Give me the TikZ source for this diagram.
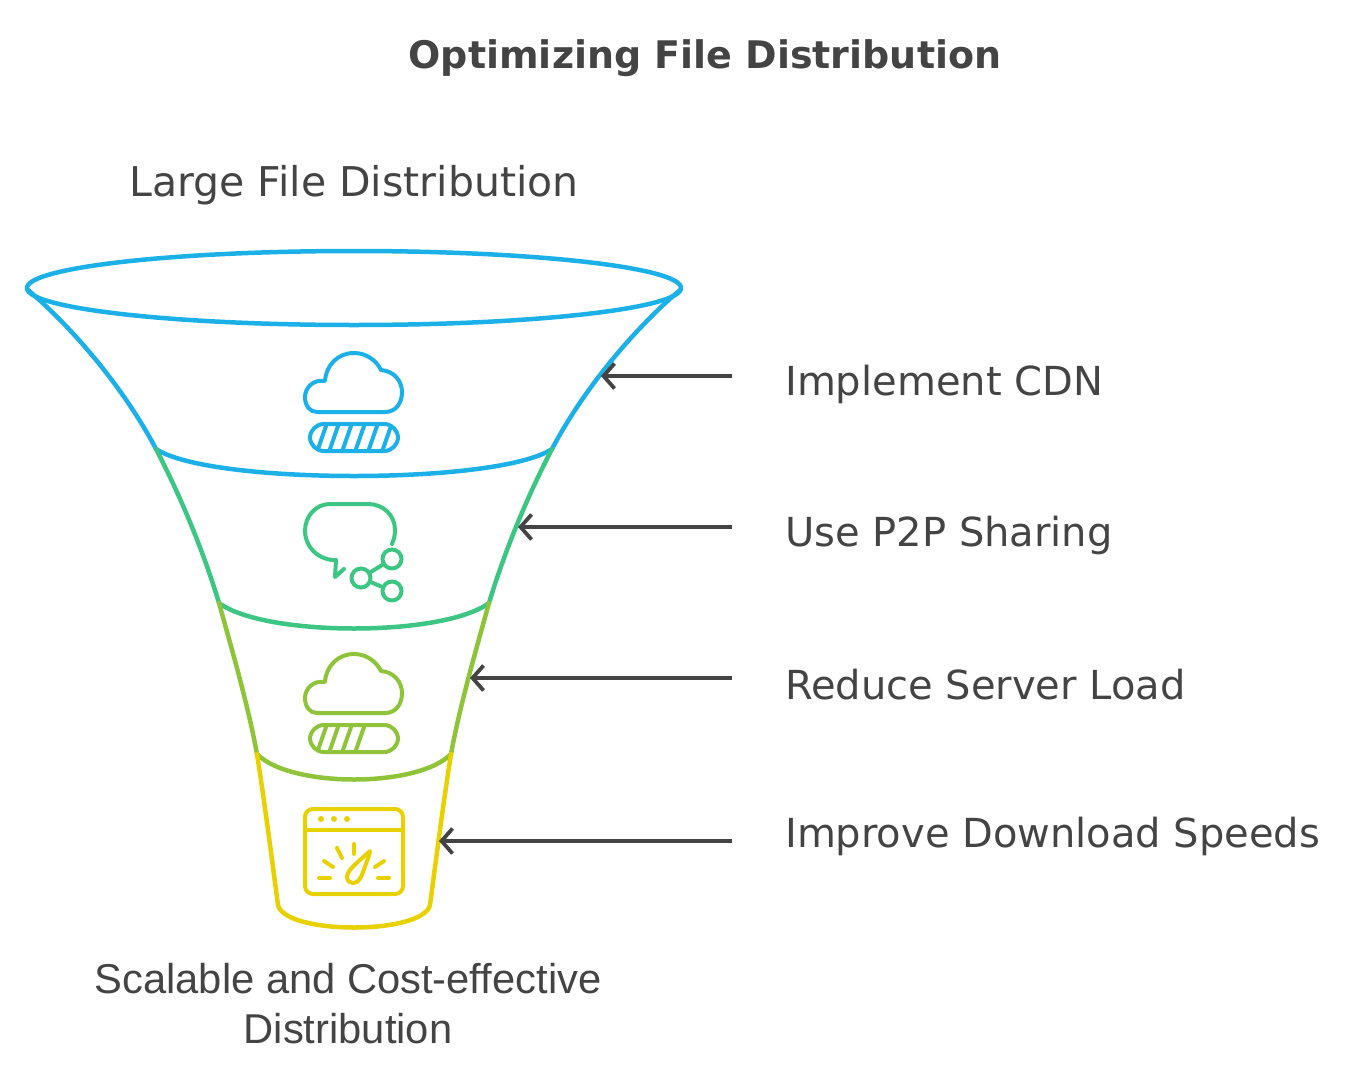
\documentclass[tikz,border=0pt]{standalone}
\usepackage{fontspec}
\setmainfont{DejaVu Sans}
\newfontfamily\plainfont{Liberation Sans}
\usetikzlibrary{arrows.meta}
\definecolor{inkgrey}{HTML}{444444}
\definecolor{fblue}{HTML}{1CB0E8}
\definecolor{fgreen}{HTML}{3CC583}
\definecolor{folive}{HTML}{8FC43A}
\definecolor{fyellow}{HTML}{E8D100}
\tikzstyle{wall} = [line width=4.5pt, line cap=round, line join=round]
\tikzstyle{icon} = [line width=4pt, line cap=round, line join=round]
\tikzstyle{pointer} = [draw=inkgrey, line width=3.8pt, {Straight Barb[length=11pt,width=25pt]}-]
\tikzstyle{stage} = [text=inkgrey, anchor=west, inner sep=0pt, font=\fontsize{40}{48}\selectfont]
\tikzstyle{sharedot} = [circle, draw=fgreen, line width=4pt, inner sep=0pt, minimum size=19pt]
\newcommand{\cloudbar}[3]{%
  \begin{scope}[shift={(354,#1)}, icon, draw=#2]
    \draw (-37,32) -- (31,32) .. controls (42,32) and (48,23) .. (48,12)
      .. controls (48,1) and (40,-9) .. (27,-10)
      .. controls (22,-20) and (12,-27) .. (0,-27)
      .. controls (-16,-27) and (-28,-15) .. (-29,1)
      .. controls (-41,-1) and (-49,8) .. (-49,17)
      .. controls (-49,26) and (-44,32) .. (-37,32) -- cycle;
    \draw[rounded corners=14pt] (-44,44) rectangle (44,71);
    \foreach \sx in {#3} \draw (\sx,69) -- (\sx+8,46);
  \end{scope}}
\begin{document}
\begin{tikzpicture}[x=1pt,y=-1pt]
  \useasboundingbox (0,0) rectangle (1358,1079);
  \node[text=inkgrey, inner sep=0pt, font=\fontsize{38}{46}\selectfont\bfseries] (title) at (705,58) {Optimizing File Distribution};
  \node[text=inkgrey, inner sep=0pt, font=\fontsize{41}{49}\selectfont] (top) at (354,185) {Large File Distribution};
  \node[text=inkgrey, inner sep=0pt, align=center, font=\fontsize{41.7}{50}\selectfont\plainfont] (bottom) at (348,1004) {Scalable and Cost-effective\\Distribution};
  % funnel
  \draw[wall, fblue] (354,288) ellipse [x radius=327pt, y radius=37pt];
  \draw[wall, fblue] (28,290) .. controls (75,330) and (125,390) .. (156,449)
    .. controls (210,485) and (498,485) .. (552,449)
    .. controls (583,390) and (633,330) .. (680,290);
  \draw[wall, fgreen] (156,449) .. controls (180,495) and (203,550) .. (219,603)
    .. controls (265,637) and (443,637) .. (489,603)
    .. controls (505,550) and (528,495) .. (552,449);
  \draw[wall, folive] (219,603) .. controls (232,650) and (248,705) .. (257,754)
    .. controls (290,788) and (418,788) .. (451,754)
    .. controls (460,705) and (476,650) .. (489,603);
  \draw[wall, fyellow] (257,754) .. controls (265,805) and (272,860) .. (278,905)
    .. controls (285,935) and (423,935) .. (430,905)
    .. controls (436,860) and (443,805) .. (451,754);
  % icons
  \cloudbar{380}{fblue}{-36,-24,-11,2,15,29}
  \cloudbar{681}{folive}{-36,-24,-11,2}
  \draw[icon, fgreen] (392,544) .. controls (394,539) and (395,535) .. (395,530)
    .. controls (395,515) and (383,504) .. (368,504) -- (330,504)
    .. controls (316,504) and (305,516) .. (305,531)
    .. controls (305,546) and (317,559) .. (333,560) -- (336,560) -- (335,577) -- (344,569);
  \node[sharedot] (shareA) at (361,578) {};
  \node[sharedot] (shareB) at (392,559) {};
  \node[sharedot] (shareC) at (392,591) {};
  \draw[icon, fgreen] (shareA) -- (shareB);
  \draw[icon, fgreen] (shareA) -- (shareC);
  \begin{scope}[icon, fyellow]
    \draw[rounded corners=8pt] (305,809) rectangle (403,894);
    \draw (305,830) -- (403,830);
    \fill (321,819) circle (3pt) (334,819) circle (3pt) (347,819) circle (3pt);
    \draw (319,878) -- (330,878);
    \draw (324,861) -- (333,867);
    \draw (337,848) -- (342,858);
    \draw (354,844) -- (354,854);
    \draw (375,867) -- (384,861);
    \draw (378,878) -- (389,878);
    \draw (370,851) .. controls (358,862) and (347,870) .. (347,877)
      .. controls (347,881) and (350,883) .. (353,883)
      .. controls (358,883) and (361,878) .. (363,872)
      .. controls (365,866) and (369,857) .. (370,851) -- cycle;
  \end{scope}
  % labels and pointers
  \node[stage] (cdn) at (785,384) {Implement CDN};
  \node[stage] (ptwop) at (785,535) {Use P2P Sharing};
  \node[stage] (load) at (785,685) {Reduce Server Load};
  \node[stage] (speed) at (785,836) {Improve Download Speeds};
  \coordinate (cdnA) at (601,376);
  \coordinate (cdnB) at (732,376);
  \coordinate (ptwopA) at (518,527);
  \coordinate (ptwopB) at (732,527);
  \coordinate (loadA) at (470,678);
  \coordinate (loadB) at (732,678);
  \coordinate (speedA) at (439,841);
  \coordinate (speedB) at (732,841);
  \draw[pointer] (cdnA) -- (cdnB);
  \draw[pointer] (ptwopA) -- (ptwopB);
  \draw[pointer] (loadA) -- (loadB);
  \draw[pointer] (speedA) -- (speedB);
\end{tikzpicture}
\end{document}
